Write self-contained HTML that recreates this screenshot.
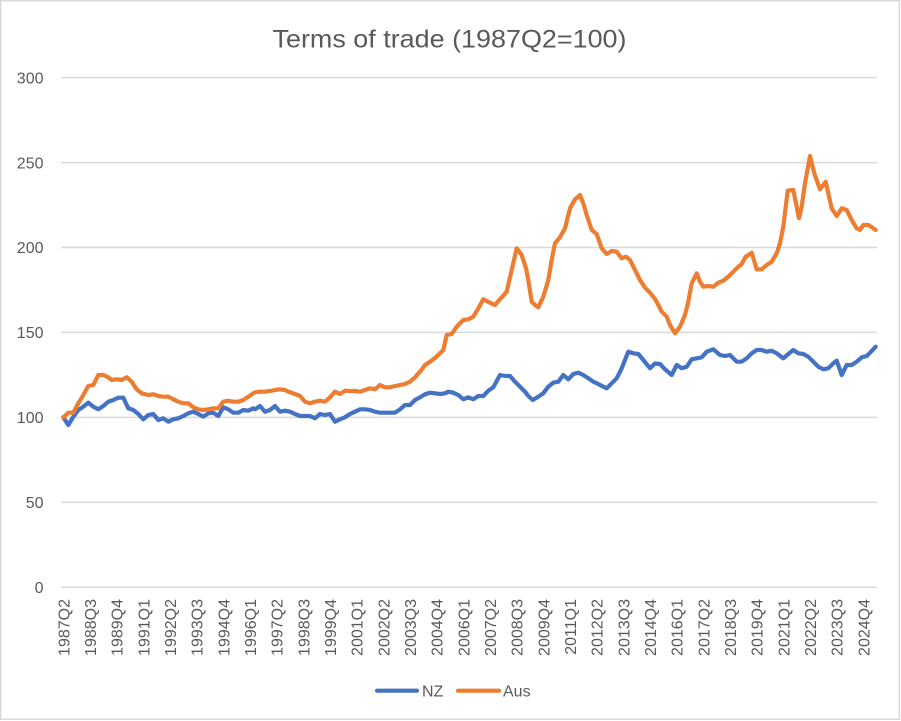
<!DOCTYPE html>
<html>
<head>
<meta charset="utf-8">
<style>
  html, body { margin: 0; padding: 0; background: #ffffff; }
  svg { display: block; }
  text { font-family: "Liberation Sans", "DejaVu Sans", sans-serif; fill: #595959; }
</style>
</head>
<body>
<svg width="901" height="721" viewBox="0 0 901 721" xmlns="http://www.w3.org/2000/svg">
  <rect x="0" y="0" width="901" height="721" fill="#ffffff"/>
  <rect x="0.75" y="0.75" width="898.5" height="718.5" fill="none" stroke="#d9d9d9" stroke-width="1.5"/>

  <!-- Title -->
  <text x="449.5" y="47.7" font-size="25" text-anchor="middle" textLength="354" lengthAdjust="spacingAndGlyphs">Terms of trade (1987Q2=100)</text>

  <!-- Gridlines -->
  <g stroke="#d9d9d9" stroke-width="1.5">
    <line x1="61" y1="77.6" x2="877" y2="77.6"/>
    <line x1="61" y1="162.6" x2="877" y2="162.6"/>
    <line x1="61" y1="247.5" x2="877" y2="247.5"/>
    <line x1="61" y1="332.4" x2="877" y2="332.4"/>
    <line x1="61" y1="417.4" x2="877" y2="417.4"/>
    <line x1="61" y1="502.4" x2="877" y2="502.4"/>
    <line x1="61" y1="587.3" x2="877" y2="587.3"/>
  </g>

  <!-- Y labels -->
  <g font-size="16" text-anchor="end">
    <text x="43.5" y="83.3">300</text>
    <text x="43.5" y="168.3">250</text>
    <text x="43.5" y="253.2">200</text>
    <text x="43.5" y="338.1">150</text>
    <text x="43.5" y="423.1">100</text>
    <text x="43.5" y="508.1">50</text>
    <text x="43.5" y="593.0">0</text>
  </g>

  <!-- X labels -->
  <g font-size="16" text-anchor="end">
    <text x="69.4" y="599" transform="rotate(-90 69.4 599)">1987Q2</text>
    <text x="96.0" y="599" transform="rotate(-90 96.0 599)">1988Q3</text>
    <text x="122.7" y="599" transform="rotate(-90 122.7 599)">1989Q4</text>
    <text x="149.4" y="599" transform="rotate(-90 149.4 599)">1991Q1</text>
    <text x="176.0" y="599" transform="rotate(-90 176.0 599)">1992Q2</text>
    <text x="202.7" y="599" transform="rotate(-90 202.7 599)">1993Q3</text>
    <text x="229.4" y="599" transform="rotate(-90 229.4 599)">1994Q4</text>
    <text x="256.0" y="599" transform="rotate(-90 256.0 599)">1996Q1</text>
    <text x="282.7" y="599" transform="rotate(-90 282.7 599)">1997Q2</text>
    <text x="309.4" y="599" transform="rotate(-90 309.4 599)">1998Q3</text>
    <text x="336.0" y="599" transform="rotate(-90 336.0 599)">1999Q4</text>
    <text x="362.7" y="599" transform="rotate(-90 362.7 599)">2001Q1</text>
    <text x="389.4" y="599" transform="rotate(-90 389.4 599)">2002Q2</text>
    <text x="416.0" y="599" transform="rotate(-90 416.0 599)">2003Q3</text>
    <text x="442.7" y="599" transform="rotate(-90 442.7 599)">2004Q4</text>
    <text x="469.4" y="599" transform="rotate(-90 469.4 599)">2006Q1</text>
    <text x="496.0" y="599" transform="rotate(-90 496.0 599)">2007Q2</text>
    <text x="522.7" y="599" transform="rotate(-90 522.7 599)">2008Q3</text>
    <text x="549.4" y="599" transform="rotate(-90 549.4 599)">2009Q4</text>
    <text x="576.0" y="599" transform="rotate(-90 576.0 599)">2011Q1</text>
    <text x="602.7" y="599" transform="rotate(-90 602.7 599)">2012Q2</text>
    <text x="629.4" y="599" transform="rotate(-90 629.4 599)">2013Q3</text>
    <text x="656.0" y="599" transform="rotate(-90 656.0 599)">2014Q4</text>
    <text x="682.7" y="599" transform="rotate(-90 682.7 599)">2016Q1</text>
    <text x="709.4" y="599" transform="rotate(-90 709.4 599)">2017Q2</text>
    <text x="736.0" y="599" transform="rotate(-90 736.0 599)">2018Q3</text>
    <text x="762.7" y="599" transform="rotate(-90 762.7 599)">2019Q4</text>
    <text x="789.4" y="599" transform="rotate(-90 789.4 599)">2021Q1</text>
    <text x="816.0" y="599" transform="rotate(-90 816.0 599)">2022Q2</text>
    <text x="842.7" y="599" transform="rotate(-90 842.7 599)">2023Q3</text>
    <text x="869.4" y="599" transform="rotate(-90 869.4 599)">2024Q4</text>
  </g>

  <!-- NZ series -->
  <polyline fill="none" stroke="#4472C4" stroke-width="4.2" stroke-linejoin="round" stroke-linecap="round"
    points="63.3,417.3 68.3,425 73.3,416.7 78.3,410 83.3,406.7 88.3,402.7 93.3,406.7 98.3,409.3 103.3,406 108.3,401.7 113.3,400 118.3,397.7 123.3,397.7 128.3,408.3 133.3,410 138.3,414 143.3,419.3 148.3,415 153.3,414 158.3,420 163.3,418.3 168.3,421.7 173.3,419.3 178.3,418.3 183.3,416 188.3,413.3 193.3,411.7 198.3,414 203.3,416.7 208.3,413.3 213.3,412.7 218.3,416 223.3,407.3 228.3,409.3 233.3,412.7 238.3,412.7 243.3,410 248.3,410.7 253.3,408.3 255,409.3 260,406 265,411.7 270,410 275,406 280,411.7 285,410.7 290,411.7 295,414 300,416 305,416 310,416 315,418.3 320,414 325,415 330,414 335,421.7 340,419.3 345,417.3 350,414 355,411.7 360,409.3 365,409.3 370,410 375,411.7 380,412.7 385,412.7 390,412.7 395,412.7 400,409.3 405,405 410,405 415,400 420,397.3 425,394.3 430,392.7 435,393.3 440,394 445,393.3 448.3,391.7 453.3,392.7 458.3,395 463.3,399.3 468.3,397.3 473.3,399.3 478.3,396 483.3,396 488.3,390.7 493.3,387.3 500,375 505,376 510,376 515,381.7 520,386.7 525,391.7 528.3,396 532.7,400 538.3,396.7 543.3,393.3 548.3,386.7 553.3,382.7 558.3,381.7 563.3,375 568.3,379.3 573.3,374 578.3,372.7 583.3,375 588.3,378.3 593.3,381.7 598.3,384 603.3,386.7 606.7,388.3 611.7,383.3 616.7,378.3 621.7,368.3 628.3,351.7 633.3,353.3 638.3,354 643.3,360 650,368.3 655,363.5 660,364 665,369.3 671.7,375 676.7,365 681.7,368.3 686.7,366.7 691.7,359.3 696.7,358.3 701.7,357.3 706.7,351.7 713.3,349.3 720,355 725,356 730,355 736.7,361.7 741.7,361.7 746.7,358.3 751.7,353.3 756.7,350 761.7,350 766.7,351.7 771.7,350.7 776.7,353.3 783.3,358.3 788.3,354 793.3,350 798.3,353.3 803.3,354 808.3,356.7 813.3,361.7 818.3,366.7 823.3,369.3 828.3,368.3 833.3,363.3 836.7,360.7 841.7,375 846.7,365 851.7,365 856.7,361.7 861.7,357.3 866.7,356 871,351.7 875.7,346.7"/>

  <!-- Aus series -->
  <polyline fill="none" stroke="#ED7D31" stroke-width="4.2" stroke-linejoin="round" stroke-linecap="round"
    points="63.3,417.3 68.3,412.7 73.3,412.7 78.3,403.3 83.3,395 88.3,386 93.3,385 98.3,375 103.3,375 108.3,377.3 111.7,380 116.7,379.3 121.7,380 126.7,377.3 131.7,381.7 136.7,389.3 141.7,393.3 148.3,395 153.3,394.3 158.3,396 163.3,396.7 168.3,396.7 173.3,399.3 178.3,401.7 183.3,403.3 188.3,403.3 193.3,407.3 198.3,409.3 203.3,410 208.3,409.3 213.3,408.3 218.3,408.3 223.3,401.7 228.3,400.7 233.3,401.7 238.3,401.7 243.3,400 248.3,396.7 253.3,393.3 255,392.3 260,391.7 265,391.7 270,391 275,390 280,389.3 285,390 290,392.3 295,394 300,396 305,401.7 310,403.3 315,401.7 320,400.7 325,401.7 330,397.3 335,391.7 340,394 345,390.7 350,391 355,391 360,391.7 365,390 370,388.3 375,389.3 380,385 385,387.3 390,387.3 395,386 400,385 405,384 410,381.7 415,377.3 420,371.7 425,365 430,361.7 435,358 440,353.3 443.3,350 446.7,335 451.7,334 456.7,326.7 463.3,320 468.3,319.3 473.3,316.7 478.3,308.3 483.3,299.3 490,302.7 495,305 500,299.3 506.7,291.7 511.7,270 516.7,248.3 521.7,255 526,268.3 528.3,280 531.7,301.7 535,305 538.3,307.3 543.3,296.7 548.3,280 551.7,260 555,243.3 560,237.3 565,228.3 570,208.3 575,199.3 580,195 583.3,203.3 586.7,215 591.7,230 596.7,234 601.7,248.3 606.7,254 611.7,251 616.7,251.7 621.7,258.3 626,256.7 630,260 635,270 640,280 645,287.7 650,292.7 655,299 658.3,305 661.7,311.7 666.7,316.7 670,325 675,333.3 680,326.7 685,315 688.3,301.7 691.7,283.3 696.7,273.3 700,281.7 703.3,286.7 708.3,286 713.3,286.7 718.3,282.7 723.3,280.7 728.3,276.7 733.3,271.7 738.3,266.7 741.7,264 745.7,256.7 751.7,252.7 756.7,269.3 761.7,269.3 766.7,265 771.7,261.7 776.7,253.3 780,243.3 783.3,226.7 787.7,190.7 793.3,190 796.7,206.7 799,218.3 801.7,206.7 805,183.3 810,156 814.3,173.3 820,189.3 825.7,181.7 828.3,193.3 831.7,208.3 836.7,216 841.7,208.3 846.7,210 851.7,220 856.7,228.3 860,230 863.3,225 868.3,225 871.7,227.3 875.7,230"/>

  <!-- Legend -->
  <line x1="377" y1="690.7" x2="417" y2="690.7" stroke="#4472C4" stroke-width="4.2" stroke-linecap="round"/>
  <text x="422" y="696.7" font-size="16">NZ</text>
  <line x1="458" y1="690.7" x2="499" y2="690.7" stroke="#ED7D31" stroke-width="4.2" stroke-linecap="round"/>
  <text x="503" y="696.7" font-size="16">Aus</text>
</svg>
</body>
</html>
